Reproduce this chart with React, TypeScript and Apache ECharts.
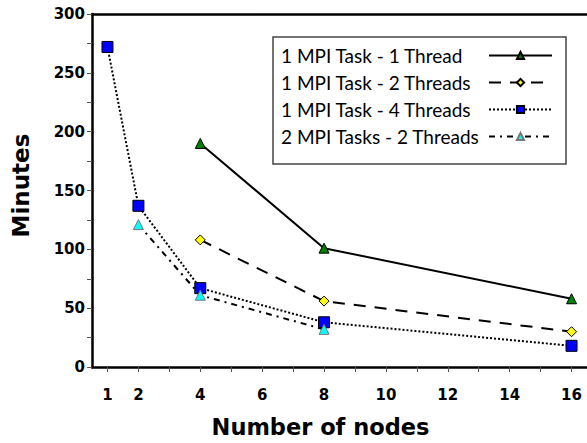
import React, { useEffect, useRef } from "react";
import * as echarts from "echarts";

const seriesNames = [
  "1 MPI Task - 1 Thread",
  "1 MPI Task - 2 Threads",
  "1 MPI Task - 4 Threads",
  "2 MPI Tasks - 2 Threads",
];
const nodes1 = [4, 8, 16];
const minutes1 = [190, 101, 58];
const nodes2 = [4, 8, 16];
const minutes2 = [108, 56, 30];
const nodes3 = [1, 2, 4, 8, 16];
const minutes3 = [272, 137, 67, 38, 18];
const nodes4 = [2, 4, 8];
const minutes4 = [121, 61, 32];
const xTicks = [1, 2, 3, 4, 5, 6, 7, 8, 9, 10, 11, 12, 13, 14, 15, 16];
const xTickLabels = [1, 2, 4, 6, 8, 10, 12, 14, 16];
const yTicks = [0, 25, 50, 75, 100, 125, 150, 175, 200, 225, 250, 275, 300];
const yTickLabels = [0, 50, 100, 150, 200, 250, 300];

const LABEL_FONT = "DejaVu Sans";
const LEGEND_FONT = "Lato";

function pairs(xs: number[], ys: number[]) {
  return xs.map((x, i) => [x, ys[i]]);
}

export default function App() {
  const ref = useRef<HTMLDivElement>(null);
  useEffect(() => {
    if (!ref.current) return;
    const chart = echarts.init(ref.current, undefined, { renderer: "svg" });
    const styles = [
      { type: "solid" as any, symbol: "triangle", color: "#008000", border: "#000", size: 10 },
      { type: [12, 9] as any, symbol: "diamond", color: "#ffff00", border: "#000", size: 10 },
      { type: [2, 2] as any, symbol: "rect", color: "#0000ff", border: "#000", size: 11 },
      { type: [6, 5, 2, 5] as any, symbol: "triangle", color: "#00ffff", border: "#777", size: 10 },
    ];
    const datas = [
      pairs(nodes1, minutes1),
      pairs(nodes2, minutes2),
      pairs(nodes3, minutes3),
      pairs(nodes4, minutes4),
    ];
    chart.setOption({
      animation: false,
      backgroundColor: "#fff",
      grid: { left: 92, right: 0, top: 14, bottom: 76 },
      legend: {
        orient: "vertical",
        left: 273,
        top: 37,
        align: "right",
        borderColor: "#444",
        borderWidth: 1.5,
        padding: [9, 13, 18, 8],
        itemGap: 8,
        itemWidth: 63,
        itemHeight: 9,
        data: seriesNames,
        formatter: (name: string) => `{a|${name}}`,
        textStyle: {
          fontFamily: LEGEND_FONT,
          fontSize: 19,
          rich: {
            a: {
              fontFamily: LEGEND_FONT,
              fontSize: 19,
              color: "#000",
              width: 203,
              align: "left",
              lineHeight: 20,
            },
          },
        },
      },
      xAxis: [
        {
          type: "value",
          min: 0.5,
          max: 16.5,
          name: "Number of nodes",
          nameLocation: "middle",
          nameGap: 48,
          nameTextStyle: {
            fontFamily: LABEL_FONT,
            fontWeight: "bold",
            fontSize: 22.5,
            color: "#000",
            padding: [0, 38, 0, 0],
          },
          axisLine: { show: true, onZero: false, lineStyle: { color: "#000", width: 2.5 } },
          axisTick: { show: true, customValues: xTicks, length: 5, lineStyle: { color: "#555", width: 1 } },
          axisLabel: {
            customValues: xTickLabels,
            margin: 20,
            fontFamily: LABEL_FONT,
            fontWeight: "bold",
            fontSize: 15,
            color: "#000",
          },
          splitLine: { show: false },
        },
        {
          type: "value",
          position: "top",
          min: 0.5,
          max: 16.5,
          axisLine: { show: true, onZero: false, lineStyle: { color: "#000", width: 2.5 } },
          axisTick: { show: false },
          axisLabel: { show: false },
          splitLine: { show: false },
        },
      ],
      yAxis: {
        type: "value",
        min: 0,
        max: 300,
        interval: 50,
        name: "Minutes",
        nameLocation: "middle",
        nameGap: 60,
        nameTextStyle: {
          fontFamily: LABEL_FONT,
          fontWeight: "bold",
          fontSize: 23,
          color: "#000",
          padding: [0, 0, 0, 10],
        },
        axisLine: { show: true, lineStyle: { color: "#000", width: 2.5 } },
        axisTick: { show: true, customValues: yTicks, length: 5, lineStyle: { color: "#555", width: 1 } },
        axisLabel: {
          customValues: yTickLabels,
          margin: 7,
          fontFamily: LABEL_FONT,
          fontWeight: "bold",
          fontSize: 15,
          color: "#000",
        },
        splitLine: { show: false },
      },
      series: datas.map((d, i) => ({
        name: seriesNames[i],
        type: "line",
        data: d,
        symbol: styles[i].symbol,
        symbolSize: styles[i].size,
        showSymbol: true,
        lineStyle: { color: "#000", width: 2, type: styles[i].type },
        itemStyle: { color: styles[i].color, borderColor: styles[i].border, borderWidth: 1 },
        z: 2 + i,
      })),
    });
    return () => chart.dispose();
  }, []);
  return <div ref={ref} style={{ width: 587, height: 443, position: "absolute", left: 0, top: 0 }} />;
}
